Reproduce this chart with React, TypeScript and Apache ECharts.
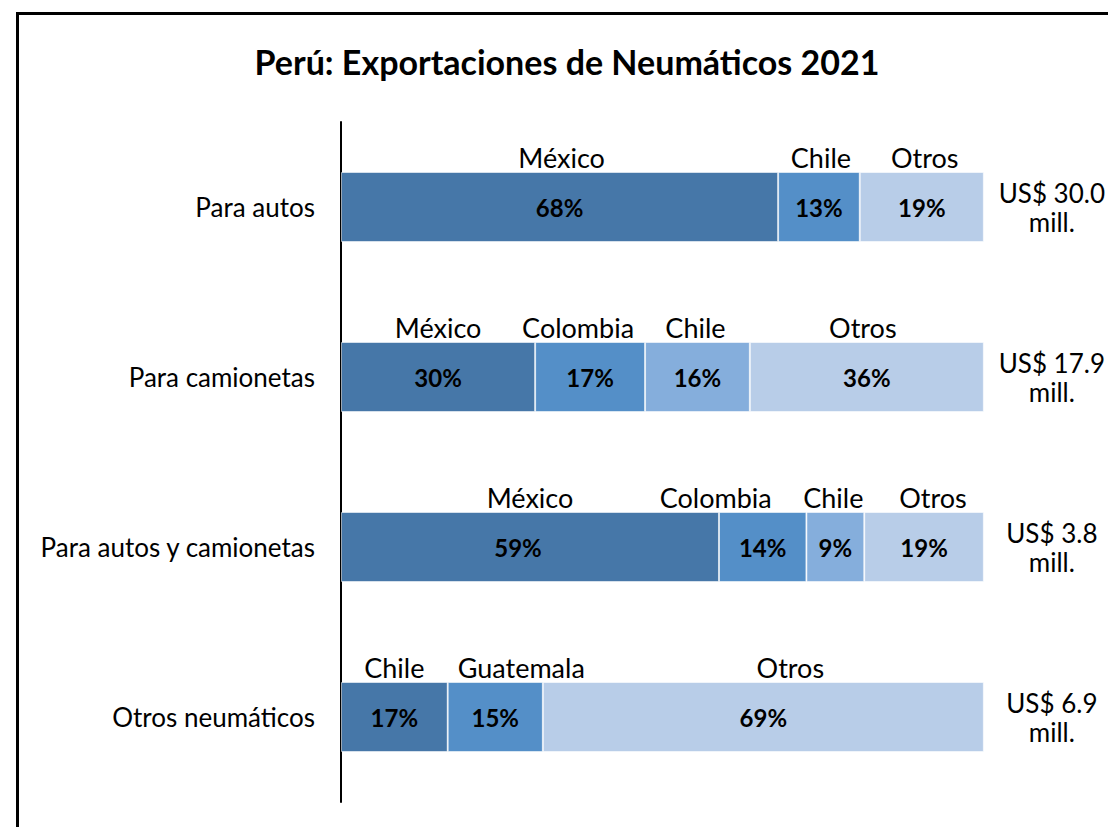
import React, { useEffect, useRef } from "react";
import * as echarts from "echarts";

const categories = ["Para autos", "Para camionetas", "Para autos y camionetas", "Otros neumáticos"];
const totals = [30.0, 17.9, 3.8, 6.9];

const seg1Names = ["México", "México", "México", "Chile"];
const seg1Values = [68.0, 30.2, 58.8, 16.6];
const seg2Names = ["Chile", "Colombia", "Colombia", "Guatemala"];
const seg2Values = [12.7, 17.1, 13.6, 14.8];
const seg3Names = [null, "Chile", "Chile", null];
const seg3Values = [null, 16.3, 9.0, null];
const otrosNames = ["Otros", "Otros", "Otros", "Otros"];
const otrosValues = [19.3, 36.4, 18.6, 68.6];

// label placement nudges (style, px)
const nameNudges = [
  [[2, 0], [0, 0], [0, 0], [0, 0]],
  [[2, 0], [-12, 0], [-47, 0], [26, 0]],
  [[0, 0], [-2, 0], [-2, 0], [0, 0]],
  [[3, 0], [-4, 0], [9, 0], [27, 0]],
];
const pctNudges = [
  [[0, 0], [0, 0], [-12, 0], [0, 0]],
  [[0, 0], [0, 0], [0, 0], [0, 0]],
  [[0, 0], [0, 0], [0, 0], [0, 0]],
  [[0, 0], [0, 0], [0, 0], [0, 0]],
];

const colors = ["#4677A8", "#548FC8", "#85AEDC", "#B8CDE8"];
const FONT = "Lato";

export default function App() {
  const ref = useRef<HTMLDivElement>(null);
  useEffect(() => {
    if (!ref.current) return;
    const chart = echarts.init(ref.current, null, { renderer: "svg" });
    const slots = [
      { names: seg1Names, values: seg1Values },
      { names: seg2Names, values: seg2Values },
      { names: seg3Names, values: seg3Values },
      { names: otrosNames, values: otrosValues },
    ];
    const series: any[] = [];
    slots.forEach((s, k) => {
      series.push({
        type: "bar",
        name: "slot" + k,
        stack: "share",
        barWidth: 70,
        barGap: "-100%",
        itemStyle: { color: colors[k], borderColor: "rgba(255,255,255,0.55)", borderWidth: 1 },
        label: {
          show: true,
          position: "inside",
          fontFamily: FONT,
          fontWeight: "bold",
          fontSize: 24,
          color: "#000",
          formatter: (p: any) => (p.value == null ? "" : Math.round(p.value) + "%"),
        },
        data: s.values.map((v, i) => ({ value: v, label: { offset: pctNudges[k][i] } })),
      });
    });
    slots.forEach((s, k) => {
      series.push({
        type: "bar",
        name: "names" + k,
        stack: "names",
        barWidth: 70,
        barGap: "-100%",
        silent: true,
        itemStyle: { color: "rgba(0,0,0,0)" },
        label: {
          show: true,
          position: "top",
          distance: 1,
          fontFamily: FONT,
          fontSize: 27,
          color: "#000",
          formatter: (p: any) => s.names[p.dataIndex] || "",
        },
        data: s.values.map((v, i) => ({ value: v, label: { offset: nameNudges[k][i] } })),
      });
    });

    chart.setOption({
      animation: false,
      grid: { left: 341, right: 124, top: 122, bottom: 25, containLabel: false },
      xAxis: { type: "value", min: 0, max: 100, show: false },
      yAxis: [
        {
          type: "category",
          inverse: true,
          data: categories,
          axisLine: { show: true, lineStyle: { color: "#000", width: 2 } },
          axisTick: { show: false },
          axisLabel: { fontFamily: FONT, fontSize: 26, color: "#000", margin: 26 },
        },
        {
          type: "category",
          inverse: true,
          position: "right",
          data: totals.map((t) => "US$ " + t.toFixed(1) + "\nmill."),
          axisLine: { show: false },
          axisTick: { show: false },
          axisLabel: {
            fontFamily: FONT,
            fontSize: 26,
            color: "#000",
            margin: 68,
            align: "center",
            lineHeight: 29,
          },
        },
      ],
      graphic: [
        {
          type: "rect",
          shape: { x: 17.5, y: 13.5, width: 1300, height: 1000 },
          style: { fill: "none", stroke: "#000", lineWidth: 3 },
          silent: true,
        },
        {
          type: "text",
          x: 567,
          y: 61,
          style: {
            text: "Perú: Exportaciones de Neumáticos 2021",
            font: "bold 34px Lato",
            fill: "#000",
            textAlign: "center",
            textVerticalAlign: "middle",
          },
        },
      ],
      series,
    });
    return () => chart.dispose();
  }, []);
  return (
    <div
      ref={ref}
      style={{ position: "fixed", left: 0, top: 0, width: 1108, height: 827, background: "#fff" }}
    />
  );
}
